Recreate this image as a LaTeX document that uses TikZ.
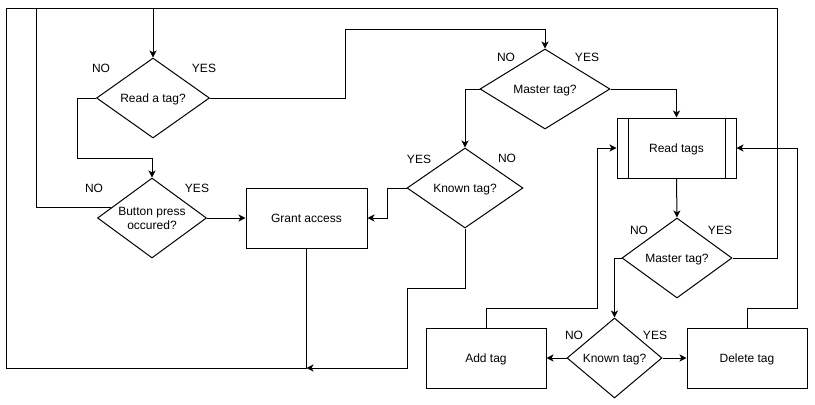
\documentclass[tikz,border=0pt]{standalone}
\usepackage{fontspec}
\setmainfont{Liberation Sans}
\usetikzlibrary{shapes.geometric,arrows.meta,calc}
\begin{document}
\begin{tikzpicture}[x=0.75pt,y=-0.75pt,
  line width=0.75pt,
  every node/.style={font=\fontsize{9}{10.5}\selectfont, inner sep=0pt},
  dec/.style={draw, diamond, text height=6.44pt, text depth=0pt, align=center, minimum height=60pt},
  box/.style={draw, rectangle, minimum width=90pt, minimum height=45pt, text height=6.44pt, text depth=0pt},
  lab/.style={text height=6.44pt, text depth=0pt},
  arr/.style={-{Stealth[length=5.25pt,width=5.25pt,inset=1.4pt]}}
]
\fill[white] (0,0) rectangle (815,404);
\useasboundingbox (0,0) rectangle (815,404);

% nodes
\node[dec, minimum width=84.75pt] (rt) at (153,98) {Read a tag?};
\node[dec, minimum width=81.75pt,
  label={[align=center, text height=16.94pt, text depth=0pt]center:Button press\\occured?}] (bp) at (152,218) {};
\node[box, minimum width=90.75pt] (ga) at (306.5,218) {Grant access};
\node[dec, minimum width=97.5pt] (mt1) at (545,89) {Master tag?};
\node[dec, minimum width=87pt] (kt1) at (465,188) {Known tag?};
\node[box, minimum width=89.25pt] (rtags) at (676.5,148) {Read tags};
\node[dec, minimum width=82.5pt] (mt2) at (677,258) {Master tag?};
\node[dec, minimum width=71.25pt] (kt2) at (614.5,358) {Known tag?};
\node[box] (add) at (486,358) {Add tag};
\node[box] (del) at (747,358) {Delete tag};

\draw ($(rtags.north west)+(11.5,0)$) -- ($(rtags.south west)+(11.5,0)$);
\draw ($(rtags.north east)+(-11.5,0)$) -- ($(rtags.south east)+(-11.5,0)$);

% labels
\node[lab] (l1) at (101,68) {NO};
\node[lab] (l2) at (204,68) {YES};
\node[lab] (l3) at (94,188) {NO};
\node[lab] (l4) at (197,188) {YES};
\node[lab] (l5) at (506,57) {NO};
\node[lab] (l6) at (587,57) {YES};
\node[lab] (l7) at (419,159) {YES};
\node[lab] (l8) at (507,158) {NO};
\node[lab] (l9) at (639,230) {NO};
\node[lab] (l10) at (720,230) {YES};
\node[lab] (l11) at (574,335) {NO};
\node[lab] (l12) at (655,335) {YES};

% junction points
\coordinate (bpno) at ($(bp.west)!0.25!(bp.north)$);
\coordinate (j) at (ga.south |- 0,368);

% connectors
\draw[arr] (rt.east) -| (345,29) -| (mt1.north);
\draw[arr] (rt.west) -| (77,158) -| (bp.north);
\draw (bpno) -| (36,8);
\draw[arr] (mt2.east) -| (777,8) -| (rt.north);
\draw (ga.south) -- (j) -- (6,368) -- (6,8) -- (153,8);
\draw[arr] (kt1.south) |- (407,288) |- (j);
\draw[arr] (kt1.west) -| (387,218) -- (ga.east);
\draw[arr] (bp.east) -- (ga.west);
\draw[arr] (mt1.west) -| (kt1.north);
\draw[arr] (mt1.east) -| (rtags.north);
\draw[arr] (rtags.south) -- (mt2.north);
\draw[arr] (mt2.west) -| (kt2.north);
\draw[arr] (kt2.west) -- (add.east);
\draw[arr] (kt2.east) -- (del.west);
\draw[arr] (add.north) |- (597,308) |- (rtags.west);
\draw[arr] (del.north) |- (797,308) |- (rtags.east);
\end{tikzpicture}
\end{document}
